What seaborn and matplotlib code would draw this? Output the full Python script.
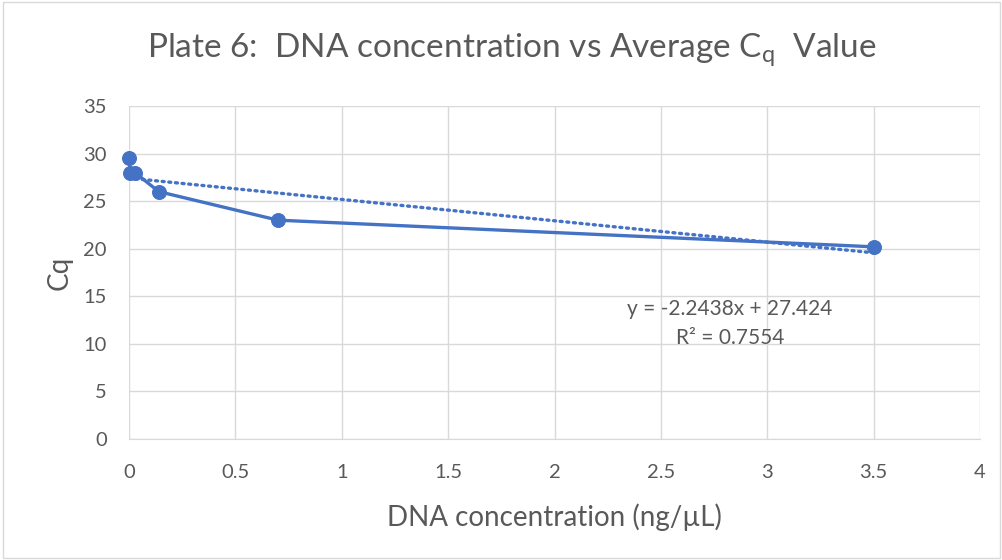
import numpy as np
import pandas as pd
import seaborn as sns
import matplotlib.pyplot as plt

# data
concentration = [3.5, 0.7, 0.14, 0.028, 0.0056, 0.00112]
cq_values = [20.2, 23.0, 26.0, 28.0, 28.0, 29.5]
slope = -2.2438
intercept = 27.424
r_squared = 0.7554

df = pd.DataFrame({'conc': concentration, 'cq': cq_values})

sns.set_style('white')
plt.rcParams['font.family'] = ['Lato', 'DejaVu Sans']
plt.rcParams['mathtext.fontset'] = 'custom'
plt.rcParams['mathtext.rm'] = 'Lato'

blue = '#4472C4'
grey_text = '#595959'

fig = plt.figure(figsize=(10.03, 5.6), dpi=100)
ax = fig.add_axes([129 / 1003, 1 - 439 / 560, (980 - 129) / 1003, (439 - 106) / 560])

sns.lineplot(data=df, x='conc', y='cq', sort=False, color=blue, linewidth=2.4,
             marker='o', markersize=10, markeredgecolor=blue, ax=ax, clip_on=False, zorder=3)

# linear trendline
fit_x = np.array([0, max(concentration)])
ax.plot(fit_x, slope * fit_x + intercept, color=blue, linewidth=2.4,
        linestyle=(0, (0.6, 1.4)), dash_capstyle='round', zorder=3)

ax.set_xlim(0, 4)
ax.set_ylim(0, 35)
ax.set_xticks(np.arange(0, 4.5, 0.5))
ax.set_xticklabels(['0', '0.5', '1', '1.5', '2', '2.5', '3', '3.5', '4'])
ax.set_yticks(range(0, 40, 5))
ax.grid(True, color='#d9d9d9', linewidth=1)
for s in ['top', 'right', 'left']:
    ax.spines[s].set_visible(False)
ax.spines['bottom'].set_color('#d9d9d9')
ax.tick_params(labelsize=14.5, colors=grey_text, length=0)
ax.tick_params(axis='x', pad=18)
ax.tick_params(axis='y', pad=16)

ax.set_xlabel('DNA concentration (ng/µL)', fontsize=20, color=grey_text, va='center')
ax.xaxis.set_label_coords(0.5, -0.234)
ax.set_ylabel('Cq', fontsize=20, color=grey_text, va='center')
ax.yaxis.set_label_coords(-0.081, 0.5)

fig.text(512 / 1003, 1 - 50 / 560,
         'Plate 6:  DNA concentration vs Average C$_\\mathregular{q}$  Value',
         fontsize=24, color=grey_text, ha='center', va='center')

ax.text(2.825, 13.66, f'y = {slope}x + {intercept}', fontsize=15, color=grey_text, ha='center', va='center')
ax.text(2.825, 10.6, f'R² = {r_squared}', fontsize=15, color=grey_text, ha='center', va='center')

fig.patches.append(plt.Rectangle((0.003, 0.003), 0.994, 0.994, transform=fig.transFigure,
                                 fill=False, edgecolor='#d9d9d9', linewidth=1))

plt.savefig('out.png', dpi=100)
